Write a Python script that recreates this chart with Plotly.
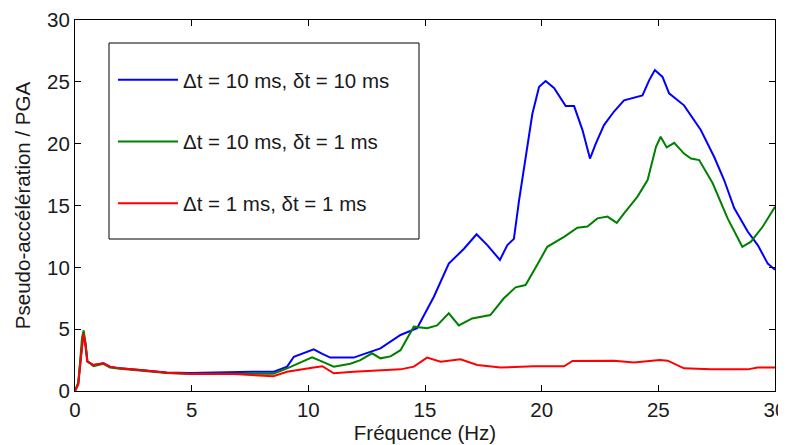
import plotly.graph_objects as go

# Frequency (Hz) / pseudo-acceleration ratio
blue_x = [0, 0.14, 0.21, 0.3, 0.36, 0.45, 0.53, 0.79, 1.22, 1.5, 1.93, 2.79, 3.93, 4.94, 5.8, 6.8, 7.6, 8.5,
          9.09, 9.38, 10.23, 10.6, 10.94, 11.94, 12.52, 13.09, 13.95, 14.66, 15.38, 16.02, 16.67, 17.21,
          17.67, 18.21, 18.53, 18.81, 19.03, 19.31, 19.6, 19.89, 20.17, 20.53, 21.03, 21.39, 21.75,
          22.07, 22.32, 22.67, 23.1, 23.53, 24.32, 24.6, 24.85, 25.18, 25.46, 26.1, 26.4, 26.82,
          27.4, 27.82, 28.25, 28.83, 29.26, 29.69, 30]
blue_y = [0, 0.6, 2.0, 4.0, 4.7, 3.8, 2.4, 2.1, 2.24, 1.97, 1.83, 1.7, 1.5, 1.45, 1.5, 1.55, 1.55, 1.55,
          1.97, 2.77, 3.37, 3.0, 2.7, 2.7, 3.05, 3.45, 4.53, 5.07, 7.62, 10.3, 11.5, 12.67,
          11.8, 10.6, 11.8, 12.3, 15.4, 18.7, 22.4, 24.6, 25.06, 24.5, 23.04, 23.04, 21.1,
          18.8, 20.0, 21.5, 22.6, 23.5, 23.9, 25.1, 25.95, 25.4, 24.07, 23.1, 22.3, 21.1,
          18.9, 17.06, 14.8, 12.9, 11.8, 10.3, 9.8]

green_x = [0, 0.14, 0.21, 0.3, 0.37, 0.45, 0.53, 0.79, 1.22, 1.5, 1.93, 2.79, 3.93, 4.94, 5.8, 6.8, 7.6, 8.5,
           9.09, 10.16, 10.6, 11.09, 11.8, 12.23, 12.73, 13.09, 13.52, 13.95, 14.52, 15.09, 15.52,
           16.02, 16.45, 17.02, 17.8, 18.38, 18.88, 19.31, 19.81, 20.24, 20.96, 21.53, 21.96,
           22.39, 22.82, 23.22, 23.53, 24.1, 24.54, 24.9, 25.1, 25.36, 25.68, 26.1, 26.4, 26.75,
           27.33, 27.97, 28.6, 28.97, 29.47, 30]
green_y = [0, 0.7, 2.2, 4.3, 4.9, 3.9, 2.4, 2.0, 2.2, 1.9, 1.8, 1.65, 1.45, 1.4, 1.4, 1.4, 1.35, 1.4,
           1.83, 2.72, 2.37, 1.97, 2.2, 2.5, 3.05, 2.64, 2.8, 3.3, 5.2, 5.07, 5.3,
           6.28, 5.3, 5.87, 6.14, 7.5, 8.38, 8.57, 10.2, 11.66, 12.47, 13.2, 13.3,
           13.96, 14.1, 13.6, 14.37, 15.7, 17.06, 19.75, 20.56, 19.7, 20.07, 19.2, 18.8, 18.67,
           16.8, 13.96, 11.66, 12.07, 13.28, 14.9]

red_x = [0, 0.14, 0.21, 0.3, 0.36, 0.45, 0.53, 0.79, 1.22, 1.5, 1.93, 2.79, 3.93, 4.94, 6.8, 8.5,
         9.09, 10.23, 10.6, 11.09, 11.94, 13.95, 14.52, 15.09, 15.67, 16.52, 17.24, 18.24, 19.67,
         20.96, 21.32, 23.1, 23.96, 25.06, 25.4, 26.1, 27.25, 28.83, 29.26, 30]
red_y = [0, 0.5, 1.8, 3.9, 4.66, 3.6, 2.37, 2.1, 2.24, 1.97, 1.83, 1.7, 1.48, 1.37, 1.37, 1.2,
         1.56, 1.9, 2.0, 1.43, 1.56, 1.75, 1.97, 2.7, 2.37, 2.56, 2.1, 1.9, 2.0,
         2.0, 2.43, 2.45, 2.3, 2.5, 2.45, 1.83, 1.75, 1.75, 1.9, 1.9]

names = ["Δt = 10 ms, δt = 10 ms", "Δt = 10 ms, δt = 1 ms", "Δt = 1 ms, δt = 1 ms"]
colors = ["#0000ff", "#008000", "#ff0000"]
ticks = [0, 5, 10, 15, 20, 25, 30]

fig = go.Figure()
for i, (xs, ys) in enumerate([(blue_x, blue_y), (green_x, green_y), (red_x, red_y)]):
    fig.add_trace(go.Scatter(x=xs, y=ys, mode="lines", name=names[i],
                             line=dict(color=colors[i], width=2),
                             legendgroup=str(i)))

font = dict(family="Liberation Sans, Arial, sans-serif", size=20.5, color="#1a1a1a")
axis_common = dict(showgrid=False, zeroline=False, showline=True, linecolor="black", linewidth=1,
                   mirror="allticks", ticks="inside", ticklen=6, tickcolor="black",
                   tickfont=font, automargin=False, ticklabeloverflow="allow")

# the page body has an 8px margin, so the figure is laid out 8px in from the window corner
OFF = 8
W, H = 786 - OFF, 445 - OFF
L, R, T, B = 75 - OFF, 11, 20 - OFF, 54
pw, ph = W - L - R, H - T - B


def px(xw):  # window x -> paper fraction
    return (xw - OFF - L) / pw


def py(yw):  # window y -> paper fraction
    return (H - B - (yw - OFF)) / ph


# legend frame (window box 109..419 x 43..239)
fig.add_shape(type="rect", xref="paper", yref="paper",
              x0=px(109), x1=px(419), y0=py(239), y1=py(43),
              line=dict(color="black", width=1), fillcolor="white", layer="below")

fig.update_layout(
    width=W, height=H,
    margin=dict(l=L, r=R, t=T, b=B),
    paper_bgcolor="white", plot_bgcolor="white",
    font=font,
    xaxis=dict(range=[0, 30], tickvals=ticks,
               title=dict(text="Fréquence (Hz)", font=font, standoff=4), **axis_common),
    yaxis=dict(range=[0, 30], tickvals=ticks,
               title=dict(text="Pseudo-accélération / PGA", font=font, standoff=10), **axis_common),
    legend=dict(x=px(113), y=py(60), xanchor="left", yanchor="top",
                borderwidth=0, bgcolor="rgba(0,0,0,0)",
                font=font, tracegroupgap=32, traceorder="grouped",
                itemwidth=60),
    showlegend=True,
)

fig.write_html("out.html")
